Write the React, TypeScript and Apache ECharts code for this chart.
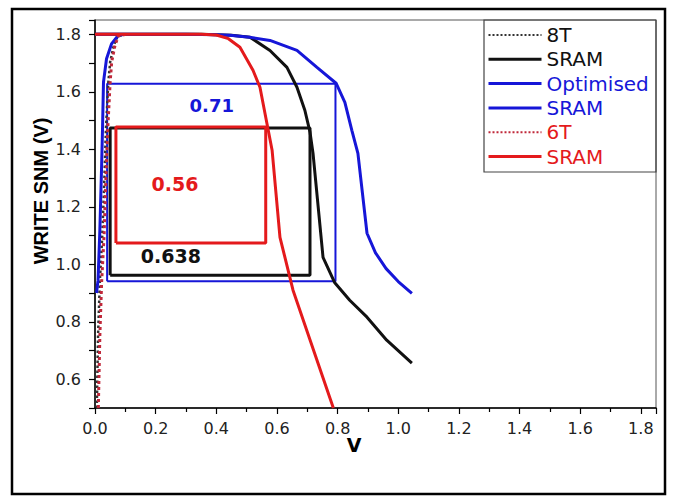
import React, { useEffect, useRef } from "react";
import * as echarts from "echarts";

// ---- data ----
const legendNames = ["8T", "8T SRAM", "Optimised", "Optimised SRAM", "6T", "6T SRAM"];
const legendLabels = ["8T", "SRAM", "Optimised", "SRAM", "6T", "SRAM"];

const curve8TDotted = [
  [0.006, 0.5], [0.01, 0.75], [0.016, 0.94], [0.024, 1.1], [0.031, 1.3], [0.036, 1.47],
  [0.044, 1.634], [0.05, 1.704], [0.062, 1.762], [0.075, 1.794], [0.1, 1.8],
];
const curve8TSolid = [
  [0, 1.8], [0.35, 1.8], [0.45, 1.797], [0.511, 1.79], [0.577, 1.744], [0.633, 1.685],
  [0.666, 1.616], [0.692, 1.536], [0.709, 1.46], [0.719, 1.386], [0.752, 1.024],
  [0.79, 0.937], [0.84, 0.875], [0.897, 0.816], [0.962, 0.736], [1.045, 0.656],
];
const curveOptLeft = [
  [0.005, 0.9], [0.01, 0.944], [0.016, 1.118], [0.022, 1.35], [0.025, 1.48], [0.028, 1.634],
  [0.038, 1.715], [0.055, 1.768], [0.077, 1.797], [0.1, 1.8],
];
const curveOptRight = [
  [0, 1.8], [0.3, 1.8], [0.4, 1.799], [0.445, 1.797], [0.51, 1.79], [0.577, 1.779],
  [0.666, 1.744], [0.732, 1.685], [0.795, 1.63], [0.824, 1.563], [0.847, 1.466],
  [0.867, 1.386], [0.897, 1.108], [0.925, 1.04], [0.96, 0.985], [1.0, 0.94], [1.045, 0.899],
];
const curve6TDotted = [
  [0.011, 0.5], [0.016, 0.75], [0.022, 0.94], [0.03, 1.1], [0.036, 1.3], [0.042, 1.47],
  [0.05, 1.634], [0.055, 1.704], [0.066, 1.762], [0.077, 1.794], [0.1, 1.8],
];
const curve6TSolid = [
  [0, 1.8], [0.35, 1.8], [0.4, 1.798], [0.44, 1.785], [0.478, 1.755], [0.521, 1.675],
  [0.544, 1.616], [0.567, 1.49], [0.584, 1.397], [0.61, 1.094], [0.653, 0.91], [0.786, 0.5],
];

// rectangles: [x0, x1, y0, y1]
const rectOpt = [0.04, 0.793, 0.941, 1.628];
const rect8T = [0.05, 0.709, 0.962, 1.474];
const rect6T = [0.069, 0.563, 1.074, 1.478];

const noteTexts = ["0.71", "0.56", "0.638"];
const notePoints = [[0.385, 1.553], [0.264, 1.281], [0.25, 1.028]];

const BLACK = "#111111";
const BLUE = "#1616d8";
const RED = "#e41a1c";
const RED_DOT = "#c0283a";

function rectPath(r: number[]) {
  return [[r[0], r[2]], [r[1], r[2]], [r[1], r[3]], [r[0], r[3]], [r[0], r[2]]];
}

export default function App() {
  const ref = useRef<HTMLDivElement>(null);
  useEffect(() => {
    if (!ref.current) return;
    const chart = echarts.init(ref.current, null, { renderer: "svg" });
    const lineSeries = (name: string, data: number[][], color: string, type: any, width: number) => ({
      name,
      type: "line",
      data,
      symbol: "none",
      showSymbol: false,
      lineStyle: { color, width, type },
      itemStyle: { color },
      z: 3,
    });
    const rectSeries = (id: string, r: number[], color: string, width: number) => ({
      id,
      type: "line",
      data: rectPath(r),
      symbol: "none",
      lineStyle: { color, width },
      z: 2,
    });
    const noteColors = [BLUE, RED, BLACK];
    const noteSizes = [18, 19, 19];
    chart.setOption({
      animation: false,
      grid: { left: 95, right: 19, top: 20, bottom: 96, show: true, borderColor: "#555", borderWidth: 1 },
      xAxis: {
        type: "value",
        min: 0,
        max: 1.85,
        interval: 0.2,
        axisLine: { lineStyle: { color: "#000", width: 1.5 } },
        axisTick: { inside: false, length: 6, lineStyle: { color: "#000", width: 1.2 } },
        minorTick: { show: true, splitNumber: 2, length: 4, lineStyle: { color: "#000", width: 1.2 } },
        splitLine: { show: false },
        axisLabel: {
          color: "#222",
          fontFamily: "DejaVu Sans",
          fontSize: 16,
          margin: 12,
          showMaxLabel: false,
          formatter: (v: number) => v.toFixed(1),
        },
      },
      yAxis: {
        type: "value",
        min: 0.5,
        max: 1.85,
        interval: 0.1,
        axisLine: { lineStyle: { color: "#000", width: 1.5 } },
        axisTick: { inside: false, length: 6, lineStyle: { color: "#000", width: 1.2 } },
        splitLine: { show: false },
        axisLabel: {
          color: "#222",
          fontFamily: "DejaVu Sans",
          fontSize: 16,
          margin: 14,
          formatter: (v: number) => {
            const t = Math.round(v * 100);
            if (t % 10 !== 0) return "";
            return Math.round(v * 10) % 2 === 0 ? v.toFixed(1) : "";
          },
        },
      },
      legend: {
        orient: "vertical",
        left: 487,
        top: 25,
        padding: 0,
        itemWidth: 53,
        itemHeight: 14,
        itemGap: 4.3,
        selectedMode: false,
        itemStyle: { opacity: 0 },
        lineStyle: { width: 3 },
        textStyle: { fontFamily: "DejaVu Sans", fontSize: 20 },
        formatter: (n: string) => legendLabels[legendNames.indexOf(n)],
        data: [
          { name: legendNames[0], textStyle: { color: BLACK }, lineStyle: { width: 2 } },
          { name: legendNames[1], textStyle: { color: BLACK } },
          { name: legendNames[2], textStyle: { color: BLUE } },
          { name: legendNames[3], textStyle: { color: BLUE } },
          { name: legendNames[4], textStyle: { color: RED }, lineStyle: { width: 2 } },
          { name: legendNames[5], textStyle: { color: RED } },
        ],
      },
      graphic: [
        {
          type: "rect",
          shape: { x: 12, y: 9, width: 653, height: 485 },
          style: { fill: "none", stroke: "#000", lineWidth: 2.5 },
          silent: true,
        },
        {
          type: "rect",
          shape: { x: 484, y: 20, width: 172, height: 152 },
          style: { fill: "none", stroke: "#444", lineWidth: 1.2 },
          silent: true,
        },
        {
          type: "text",
          x: 354,
          y: 445,
          style: {
            text: "V",
            font: 'bold 19px "DejaVu Sans"',
            fill: "#000",
            align: "center",
            verticalAlign: "middle",
          },
        },
        {
          type: "text",
          x: 41,
          y: 191,
          rotation: Math.PI / 2,
          style: {
            text: "WRITE SNM (V)",
            font: 'bold 20px "Liberation Sans"',
            fill: "#000",
            align: "center",
            verticalAlign: "middle",
          },
        },
      ],
      series: [
        rectSeries("rectOpt", rectOpt, BLUE, 2),
        rectSeries("rect8T", rect8T, BLACK, 3),
        rectSeries("rect6T", rect6T, RED, 3),
        lineSeries(legendNames[0], curve8TDotted, "#333", "dotted", 2.5),
        lineSeries(legendNames[1], curve8TSolid, BLACK, "solid", 3),
        lineSeries(legendNames[2], curveOptLeft, BLUE, "solid", 3),
        lineSeries(legendNames[3], curveOptRight, BLUE, "solid", 3),
        lineSeries(legendNames[4], curve6TDotted, RED_DOT, "dotted", 3),
        lineSeries(legendNames[5], curve6TSolid, RED, "solid", 3),
        {
          id: "notes",
          type: "scatter",
          symbolSize: 0,
          z: 5,
          itemStyle: { opacity: 1 },
          data: notePoints.map((p, i) => ({
            value: p,
            label: {
              show: true,
              position: "inside",
              formatter: noteTexts[i],
              color: noteColors[i],
              opacity: 1,
              fontFamily: "DejaVu Sans",
              fontWeight: "bold",
              fontSize: noteSizes[i],
            },
          })),
        },
      ],
    });
    return () => chart.dispose();
  }, []);
  return (
    <div
      ref={ref}
      style={{ position: "fixed", left: 0, top: 0, width: 675, height: 504, background: "#fff" }}
    />
  );
}
